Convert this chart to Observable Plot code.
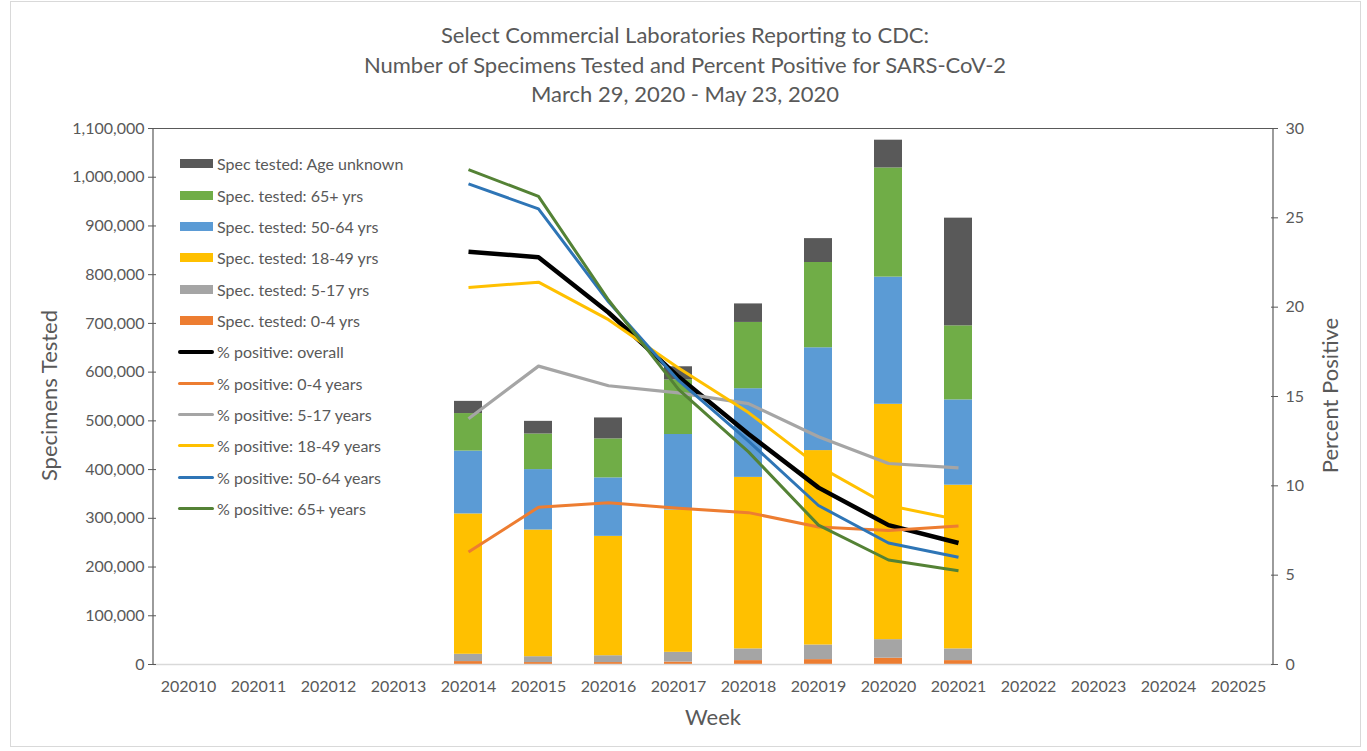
<!DOCTYPE html>
<html>
<head>
<meta charset="utf-8">
<script src="https://cdn.jsdelivr.net/npm/d3@7"></script>
<script src="https://cdn.jsdelivr.net/npm/@observablehq/plot@0.6"></script>
<style>
  html, body { margin: 0; padding: 0; background: #fff; }
  #wrap { position: relative; width: 1367px; height: 751px; overflow: hidden; font-family: Lato, "Open Sans", sans-serif; color: #595959; }
  #frame { position: absolute; left: 10px; top: 1px; width: 1349px; height: 744px; border: 1px solid #d9d9d9; }
  #title { position: absolute; left: 0; top: 20px; width: 1370px; text-align: center; font-size: 22px; line-height: 29.5px; }
  #chart { position: absolute; left: 0; top: 110px; }
  .ylab { position: absolute; font-size: 22px; white-space: nowrap; transform-origin: center; }
  #legend { position: absolute; left: 178px; top: 148px; font-size: 16px; }
  .li { display: flex; align-items: center; height: 31.35px; }
  .sw { width: 36px; display: flex; justify-content: center; margin-right: 3px; }
</style>
</head>
<body>
<div id="wrap">
  <div id="frame"></div>
  <div id="title">Select Commercial Laboratories Reporting to CDC:<br>Number of Specimens Tested and Percent Positive for SARS-CoV-2<br>March 29, 2020 - May 23, 2020</div>
  <div id="chart"></div>
  <div class="ylab" id="yl">Specimens Tested</div>
  <div class="ylab" id="yr">Percent Positive</div>
  <div class="ylab" id="xl" style="left:0;width:1426px;text-align:center;top:703px;">Week</div>
  <div id="legend"></div>
</div>
<script>
// ---- Data ----
const weeks = ["202010","202011","202012","202013","202014","202015","202016","202017","202018","202019","202020","202021","202022","202023","202024","202025"];
const dataWeeks = ["202014","202015","202016","202017","202018","202019","202020","202021"];

// Specimens tested by age group (stack components)
const spec0_4    = [6000, 4000, 4000, 5000, 8000, 10000, 13000, 8000];
const spec5_17   = [15000, 12000, 14000, 20000, 24000, 30000, 38000, 24000];
const spec18_49  = [288000, 260000, 245000, 292000, 352000, 399000, 483000, 336000];
const spec50_64  = [129000, 124000, 120000, 155000, 182000, 211000, 261000, 175000];
const spec65     = [77000, 73000, 80000, 112000, 136000, 175000, 224000, 152000];
const specUnk    = [25000, 26000, 43000, 27000, 38000, 49000, 57000, 221000];

// Percent positive
const pctOverall = [23.1, 22.8, 19.7, 16.1, 12.9, 9.9, 7.8, 6.8];
const pct0_4     = [6.3, 8.8, 9.05, 8.75, 8.5, 7.7, 7.5, 7.75];
const pct5_17    = [13.75, 16.7, 15.6, 15.2, 14.6, 12.75, 11.25, 11.0];
const pct18_49   = [21.1, 21.4, 19.3, 16.6, 14.1, 11.1, 8.9, 8.1];
const pct50_64   = [26.9, 25.5, 20.3, 15.9, 12.5, 8.9, 6.8, 6.0];
const pct65      = [27.7, 26.2, 20.4, 15.4, 11.9, 7.8, 5.85, 5.25];

const leftTicks = d3.range(0, 1100001, 100000);
const rightTicks = [0, 5, 10, 15, 20, 25, 30];

const barSeries = [
  {name: "Spec. tested: 0-4 yrs", values: spec0_4, color: "#ED7D31"},
  {name: "Spec. tested: 5-17 yrs", values: spec5_17, color: "#A5A5A5"},
  {name: "Spec. tested: 18-49 yrs", values: spec18_49, color: "#FFC000"},
  {name: "Spec. tested: 50-64 yrs", values: spec50_64, color: "#5B9BD5"},
  {name: "Spec. tested: 65+ yrs", values: spec65, color: "#70AD47"},
  {name: "Spec tested: Age unknown", values: specUnk, color: "#595959"}
];
const lineSeries = [
  {name: "% positive: overall", values: pctOverall, color: "#000000", w: 4.5},
  {name: "% positive: 0-4 years", values: pct0_4, color: "#ED7D31", w: 3},
  {name: "% positive: 5-17 years", values: pct5_17, color: "#A5A5A5", w: 3.2},
  {name: "% positive: 18-49 years", values: pct18_49, color: "#FFC000", w: 3},
  {name: "% positive: 50-64 years", values: pct50_64, color: "#2E75B6", w: 3},
  {name: "% positive: 65+ years", values: pct65, color: "#548235", w: 3}
];

const YMAX = 1100000, PMAX = 30, k = YMAX / PMAX;

const barRows = [];
dataWeeks.forEach((w, i) => barSeries.forEach(s => barRows.push({week: w, group: s.name, value: s.values[i]})));

const lineMarks = lineSeries.map(s =>
  Plot.line(dataWeeks.map((w, i) => ({week: w, y: s.values[i] * k})), {
    x: "week", y: "y", stroke: s.color, strokeWidth: s.w, strokeLinejoin: "round", strokeLinecap: "butt"
  })
);

const gray = "#595959";
const chart = Plot.plot({
  width: 1367,
  height: 630,
  marginLeft: 153,
  marginRight: 94,
  marginTop: 18,
  marginBottom: 76,
  style: {fontFamily: "Lato, 'Open Sans', sans-serif", fontSize: "16px", color: gray, background: "transparent"},
  x: {type: "band", domain: weeks, paddingInner: 0.6, paddingOuter: 0.3, axis: null},
  y: {domain: [0, YMAX], axis: null},
  color: {domain: barSeries.map(s => s.name), range: barSeries.map(s => s.color)},
  marks: [
    Plot.barY(barRows, {x: "week", y: "value", fill: "group"}),
    Plot.ruleY([0], {stroke: "#d9d9d9", strokeWidth: 1.5}),
    Plot.ruleY([YMAX], {stroke: gray, strokeWidth: 1.2}),
    ...lineMarks,
    Plot.axisX({tickSize: 0, tickPadding: 16, label: null, fill: gray}),
    Plot.axisY(leftTicks, {anchor: "left", tickSize: 5, tickPadding: 4, tickFormat: d3.format(","), label: null, stroke: gray, fill: gray}),
    Plot.axisY(leftTicks, {anchor: "left", tickSize: -3, tickFormat: () => "", label: null, stroke: gray}),
    Plot.axisY(rightTicks.map(v => v * k), {anchor: "right", tickSize: 4, tickPadding: 8, tickFormat: d => String(Math.round(d / k)), label: null, stroke: gray, fill: gray}),
    Plot.axisY(rightTicks.map(v => v * k), {anchor: "right", tickSize: -3, tickFormat: () => "", label: null, stroke: gray})
  ]
});
document.getElementById("chart").appendChild(chart);

// vertical axis lines at plot extents
const svg = d3.select(chart);
const xs = chart.scale("x"), ys = chart.scale("y");
const x0 = xs.range[0], x1 = xs.range[1];
const yTop = ys.apply(YMAX), yBot = ys.apply(0);
svg.append("line").attr("x1", x0).attr("x2", x0).attr("y1", yTop).attr("y2", yBot).attr("stroke", gray).attr("stroke-width", 1.2);
svg.append("line").attr("x1", x1).attr("x2", x1).attr("y1", yTop).attr("y2", yBot).attr("stroke", gray).attr("stroke-width", 1.2);

// Axis titles
const yl = document.getElementById("yl");
yl.style.left = (48 - 100) + "px"; yl.style.width = "200px"; yl.style.textAlign = "center";
yl.style.top = (110 + (yTop + yBot) / 2 - 14) + "px"; yl.style.transform = "rotate(-90deg)";
const yr = document.getElementById("yr");
yr.style.left = (1329 - 100) + "px"; yr.style.width = "200px"; yr.style.textAlign = "center";
yr.style.top = (110 + (yTop + yBot) / 2 - 14) + "px"; yr.style.transform = "rotate(-90deg)";

// Legend
const legend = document.getElementById("legend");
const legItems = [...barSeries].reverse().map(s => ({name: s.name, color: s.color, type: "bar"}))
  .concat(lineSeries.map(s => ({name: s.name, color: s.color, type: "line", w: Math.min(s.w, 4)})));
legItems.forEach(it => {
  const row = document.createElement("div"); row.className = "li";
  const sw = document.createElement("div"); sw.className = "sw";
  const m = document.createElement("div");
  if (it.type === "bar") { m.style.width = "33px"; m.style.height = "9px"; m.style.background = it.color; }
  else { m.style.width = "36px"; m.style.height = it.w + "px"; m.style.background = it.color; m.style.borderRadius = "2px"; }
  sw.appendChild(m);
  const t = document.createElement("span"); t.textContent = it.name;
  row.appendChild(sw); row.appendChild(t); legend.appendChild(row);
});
</script>
</body>
</html>
